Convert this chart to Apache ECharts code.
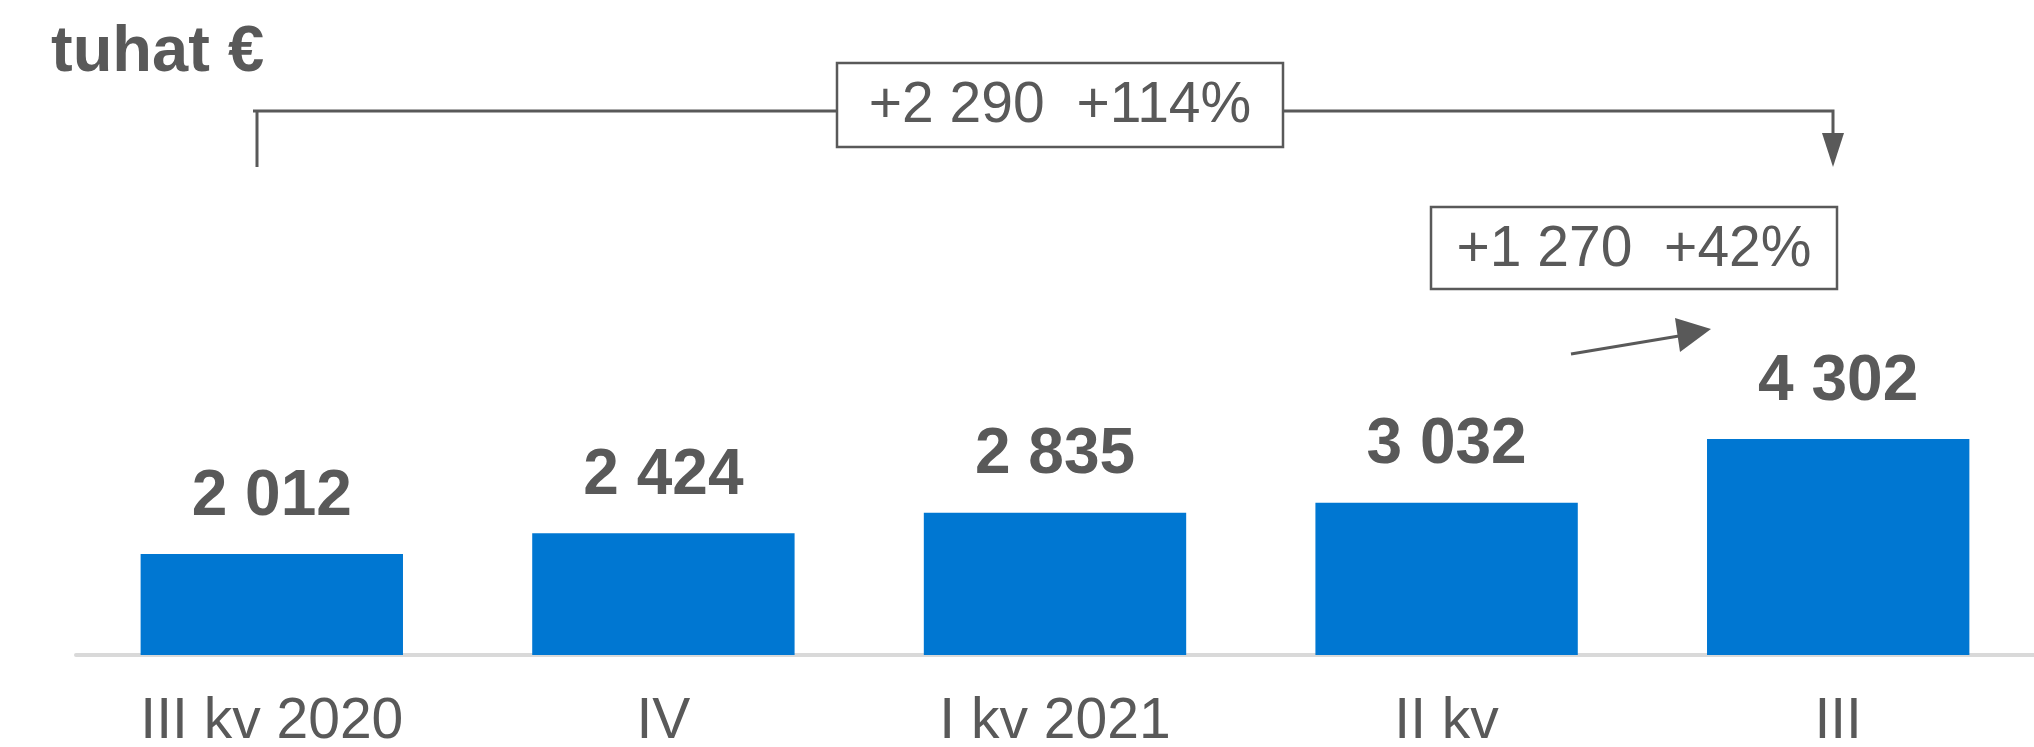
<!DOCTYPE html>
<html>
<head>
<meta charset="utf-8">
<script src="https://cdn.jsdelivr.net/npm/echarts@6/dist/echarts.min.js"></script>
<style>
  html, body { margin: 0; padding: 0; background: #fff; }
  #chart { width: 2034px; height: 747px; }
</style>
</head>
<body>
<div id="chart"></div>
<script>
// data
const categories = ['III kv 2020', 'IV', 'I kv 2021', 'II kv', 'III']
const values = [2012, 2424, 2835, 3032, 4302]
const unitLabel = 'tuhat €'
const changeLong = '+2 290  +114%'
const changeShort = '+1 270  +42%'

const textColor = '#595959'
const barColor = '#0077d2'
const fontFamily = '"Liberation Sans", Arial, sans-serif'

const fmt = v => String(v).replace(/\B(?=(\d{3})+(?!\d))/g, ' ')

const chart = echarts.init(document.getElementById('chart'))

const option = {
  animation: false,
  grid: { left: 76, right: 0, top: 153, bottom: 92, outerBoundsMode: 'none' },
  xAxis: {
    type: 'category',
    data: categories,
    axisTick: { show: false },
    axisLine: { lineStyle: { color: '#d9d9d9', width: 4 } },
    axisLabel: {
      color: textColor,
      fontSize: 57,
      fontFamily: fontFamily,
      margin: 39
    }
  },
  yAxis: {
    type: 'value',
    min: 0,
    max: 10000,
    show: false,
    splitLine: { show: false }
  },
  series: [
    {
      type: 'bar',
      data: values,
      barWidth: '67%',
      itemStyle: { color: barColor },
      label: {
        show: true,
        position: 'top',
        distance: 25,
        color: textColor,
        fontSize: 64,
        fontWeight: 'bold',
        fontFamily: fontFamily,
        formatter: p => fmt(p.value)
      }
    }
  ],
  graphic: [
    {
      type: 'text',
      style: {
        text: unitLabel,
        x: 51, y: 53,
        textAlign: 'left',
        textVerticalAlign: 'middle',
        font: 'bold 65px ' + fontFamily,
        fill: textColor
      }
    },
    // bracket from first to last quarter
    {
      type: 'polyline',
      shape: { points: [[253, 111], [1833, 111], [1833, 136]] },
      style: { stroke: textColor, lineWidth: 3, fill: null }
    },
    {
      type: 'line',
      shape: { x1: 257, y1: 111, x2: 257, y2: 167 },
      style: { stroke: textColor, lineWidth: 3 }
    },
    {
      type: 'polygon',
      shape: { points: [[1822, 133], [1844, 133], [1833, 167]] },
      style: { fill: textColor }
    },
    {
      type: 'rect',
      shape: { x: 837, y: 63, width: 446, height: 84 },
      style: { fill: '#fff', stroke: textColor, lineWidth: 2.5 }
    },
    {
      type: 'text',
      style: {
        text: changeLong,
        x: 1060, y: 106,
        textAlign: 'center',
        textVerticalAlign: 'middle',
        font: '57px ' + fontFamily,
        fill: textColor
      }
    },
    // quarter-on-quarter change
    {
      type: 'rect',
      shape: { x: 1431, y: 207, width: 406, height: 82 },
      style: { fill: '#fff', stroke: textColor, lineWidth: 2.5 }
    },
    {
      type: 'text',
      style: {
        text: changeShort,
        x: 1634, y: 250,
        textAlign: 'center',
        textVerticalAlign: 'middle',
        font: '57px ' + fontFamily,
        fill: textColor
      }
    },
    {
      type: 'line',
      shape: { x1: 1571, y1: 354, x2: 1685, y2: 335 },
      style: { stroke: textColor, lineWidth: 3 }
    },
    {
      type: 'polygon',
      shape: { points: [[1675, 318], [1711, 329], [1680, 352]] },
      style: { fill: textColor }
    }
  ]
}

chart.setOption(option)
</script>
</body>
</html>
